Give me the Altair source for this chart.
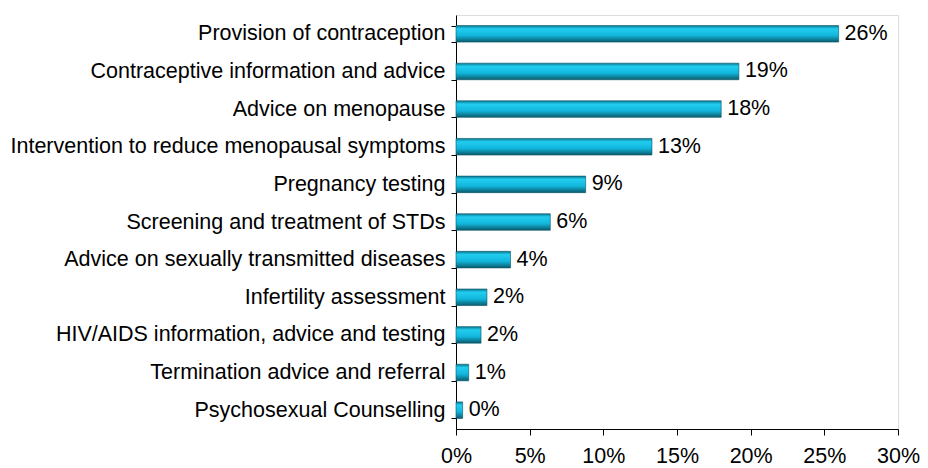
import altair as alt
import pandas as pd

categories = [
    "Provision of contraception",
    "Contraceptive information and advice",
    "Advice on menopause",
    "Intervention to reduce menopausal symptoms",
    "Pregnancy testing",
    "Screening and treatment of STDs",
    "Advice on sexually transmitted diseases",
    "Infertility assessment",
    "HIV/AIDS information, advice and testing",
    "Termination advice and referral",
    "Psychosexual Counselling",
]
values = [25.97, 19.2, 18.0, 13.3, 8.8, 6.4, 3.7, 2.1, 1.7, 0.86, 0.45]
labels = ["26%", "19%", "18%", "13%", "9%", "6%", "4%", "2%", "2%", "1%", "0%"]

df = pd.DataFrame({"cat": categories, "val": values, "lab": labels})

FONT = "Liberation Sans"
FS = 21.5

grad = alt.Gradient(
    gradient="linear",
    x1=0, x2=0, y1=0, y2=1,
    stops=[
        alt.GradientStop(color="#0a7890", offset=0),
        alt.GradientStop(color="#22cdf0", offset=0.2),
        alt.GradientStop(color="#12b6dc", offset=0.6),
        alt.GradientStop(color="#0a5a6c", offset=1),
    ],
)

y_enc = alt.Y(
    "cat:N",
    sort=categories,
    title=None,
    scale=alt.Scale(paddingInner=0.56, paddingOuter=0.28),
    axis=alt.Axis(
        labelFont=FONT, labelFontSize=FS, labelColor="black",
        labelPadding=6, tickSize=5, tickBand="extent",
        domainColor="black", tickColor="black", labelLimit=600,
    ),
)

x_enc = alt.X(
    "val:Q",
    title=None,
    scale=alt.Scale(domain=[0, 30], nice=False),
    axis=alt.Axis(
        values=[0, 5, 10, 15, 20, 25, 30], labelExpr="datum.value + '%'",
        labelFont=FONT, labelFontSize=FS, labelColor="black",
        labelPadding=10, tickSize=6, grid=False, labelFlush=False,
        labelOverlap=False,
        domainColor="black", tickColor="black",
    ),
)

bars = alt.Chart(df).mark_bar(
    fill=grad, stroke="#0a5566", strokeWidth=0.6
).encode(x=x_enc, y=y_enc)

text = alt.Chart(df).mark_text(
    align="left", baseline="middle", dx=6, font=FONT, fontSize=FS, color="black"
).encode(
    x=alt.X("val:Q"),
    y=alt.Y("cat:N", sort=categories),
    text="lab:N",
)

chart = (bars + text).properties(
    width=442, height=414,
    autosize=alt.AutoSizeParams(type="none"),
    padding={"left": 448, "top": 7, "right": 22, "bottom": 40},
).configure_view(stroke="#999999", strokeWidth=1.5).configure(background="white")

chart.save("out.html", embed_options={"renderer": "svg", "actions": False})
